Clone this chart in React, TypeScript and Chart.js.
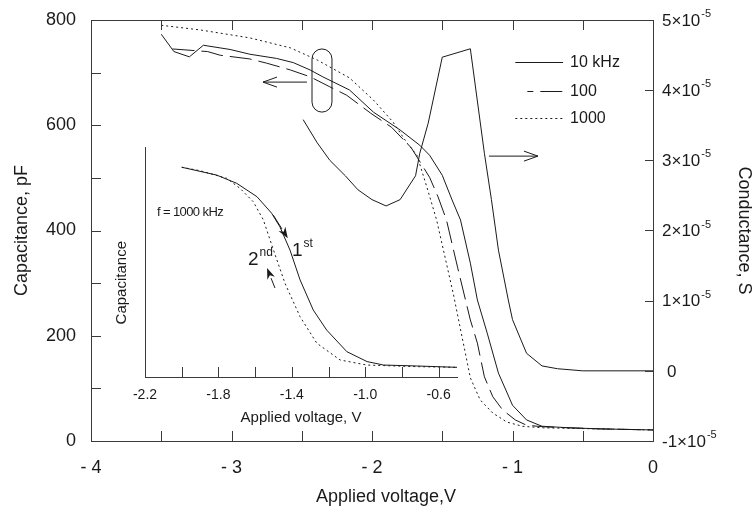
import React, { useEffect, useRef } from 'react';
import { Chart, registerables } from 'chart.js';
Chart.register(...registerables);

// ---------- Main chart data ----------
// Capacitance (pF) vs applied voltage (V), 10 kHz
const V_10K = [-3.5, -3.41, -3.3, -3.2, -3.01, -2.87, -2.68, -2.56, -2.44, -2.35, -2.16, -1.99, -1.8, -1.66, -1.59, -1.5, -1.43, -1.37, -1.3, -1.25, -1.18, -1.1, -1.0, -0.9, -0.79, -0.59, -0.36, 0];
const C_10K = [773, 740, 730, 752, 744, 735, 727, 719, 705, 692, 667, 625, 591, 562, 543, 505, 458, 420, 338, 268, 205, 129, 68, 40, 28, 25, 23, 21];
// 100 kHz
const V_100 = [-3.42, -3.17, -3.08, -2.87, -2.75, -2.58, -2.44, -2.3, -2.18, -2.01, -1.86, -1.72, -1.59, -1.53, -1.47, -1.39, -1.3, -1.25, -1.2, -1.14, -1.07, -0.98, -0.9, -0.78, -0.38, 0];
const C_100 = [745, 740, 733, 726, 718, 705, 692, 673, 657, 623, 596, 557, 501, 464, 420, 329, 230, 186, 122, 84, 59, 40, 30, 27, 23, 21];
// 1000 kHz
const V_1000 = [-3.5, -3.22, -2.87, -2.58, -2.39, -2.16, -1.99, -1.85, -1.75, -1.68, -1.61, -1.54, -1.42, -1.3, -1.23, -1.14, -1.04, -0.93, -0.78, 0];
const C_1000 = [790, 781, 766, 747, 724, 690, 648, 606, 566, 543, 483, 420, 278, 120, 78, 53, 36, 28, 25, 21];
// Conductance (S) vs applied voltage (V), 10 kHz
const V_G = [-2.49, -2.39, -2.3, -2.19, -2.1, -2.0, -1.9, -1.8, -1.69, -1.66, -1.6, -1.5, -1.3, -1.2, -1.15, -1.1, -1.03, -1.0, -0.9, -0.79, -0.68, -0.5, 0];
const G_10K = [3.58e-5, 3.25e-5, 3.0e-5, 2.78e-5, 2.58e-5, 2.44e-5, 2.35e-5, 2.44e-5, 2.78e-5, 3.1e-5, 3.53e-5, 4.47e-5, 4.59e-5, 3.1e-5, 2.44e-5, 1.72e-5, 1.01e-5, 0.73e-5, 0.25e-5, 0.07e-5, 0.03e-5, 0, 0];

const X_MINOR = [-3.5, -3, -2.5, -2, -1.5, -1, -0.5];
const Y_MINOR = [100, 200, 300, 400, 500, 600, 700];
const RIGHT_TICKS = [-1, 0, 1, 2, 3, 4, 5]; // ×10^-5
const LEGEND_LABELS = ['10 kHz', '100', '1000'];

// ---------- Inset data (f = 1000 kHz) ----------
const IV_1ST = [-2.0, -1.81, -1.7, -1.59, -1.51, -1.465, -1.41, -1.355, -1.283, -1.21, -1.1, -0.99, -0.9, -0.72, -0.5];
const IC_1ST = [0.912, 0.878, 0.842, 0.784, 0.712, 0.653, 0.552, 0.422, 0.291, 0.204, 0.11, 0.067, 0.052, 0.048, 0.042];
const IV_2ND = [-2.0, -1.9, -1.755, -1.682, -1.61, -1.555, -1.5, -1.437, -1.355, -1.264, -1.137, -0.992, -0.72, -0.5];
const IC_2ND = [0.912, 0.897, 0.864, 0.82, 0.762, 0.683, 0.552, 0.407, 0.262, 0.147, 0.074, 0.052, 0.045, 0.042];
const INSET_LABELS = [-2.2, -1.8, -1.4, -1.0, -0.6];
const INSET_MINOR = [-2.0, -1.8, -1.6, -1.4, -1.2, -1.0, -0.8, -0.6];

const INK = '#1a1a1a';
const FRAME = '#3a3a3a';
const SANS = '"Liberation Sans", Arial, Helvetica, sans-serif';
const NARROW = '"Liberation Sans Narrow", "Arial Narrow", "Liberation Sans", Arial, sans-serif';

const pts = (xs: number[], ys: number[]) => xs.map((x, i) => ({ x, y: ys[i] }));

function openArrow(ctx: CanvasRenderingContext2D, x1: number, y1: number, x2: number, y2: number, head = 14, spread = 5) {
  const ang = Math.atan2(y2 - y1, x2 - x1);
  ctx.beginPath();
  ctx.moveTo(x1, y1);
  ctx.lineTo(x2, y2);
  const bx = x2 - head * Math.cos(ang), by = y2 - head * Math.sin(ang);
  const px = -Math.sin(ang) * spread, py = Math.cos(ang) * spread;
  ctx.moveTo(bx + px, by + py);
  ctx.lineTo(x2, y2);
  ctx.lineTo(bx - px, by - py);
  ctx.stroke();
}

function filledArrow(ctx: CanvasRenderingContext2D, x1: number, y1: number, x2: number, y2: number, head = 11, spread = 4) {
  const ang = Math.atan2(y2 - y1, x2 - x1);
  const bx = x2 - head * Math.cos(ang), by = y2 - head * Math.sin(ang);
  ctx.beginPath();
  ctx.moveTo(x1, y1);
  ctx.lineTo(bx, by);
  ctx.stroke();
  const px = -Math.sin(ang) * spread, py = Math.cos(ang) * spread;
  ctx.beginPath();
  ctx.moveTo(x2, y2);
  ctx.lineTo(bx + px, by + py);
  ctx.lineTo(bx + 0.3 * (x2 - bx), by + 0.3 * (y2 - by));
  ctx.lineTo(bx - px, by - py);
  ctx.closePath();
  ctx.fill();
}

const mainPlugin = {
  id: 'mainDecor',
  afterDraw(chart: any) {
    const { ctx, chartArea: a, scales } = chart;
    const sx = scales.x, sy = scales.y, sy1 = scales.y1;
    ctx.save();
    ctx.strokeStyle = FRAME;
    ctx.lineWidth = 1;
    ctx.setLineDash([]);
    ctx.strokeRect(Math.round(a.left) + 0.5, Math.round(a.top) + 0.5, Math.round(a.right - a.left), Math.round(a.bottom - a.top));
    const TL = 10;
    ctx.beginPath();
    X_MINOR.forEach((v) => {
      const px = Math.round(sx.getPixelForValue(v)) + 0.5;
      ctx.moveTo(px, a.bottom); ctx.lineTo(px, a.bottom - TL);
      ctx.moveTo(px, a.top); ctx.lineTo(px, a.top + TL);
    });
    Y_MINOR.forEach((v) => {
      const py = Math.round(sy.getPixelForValue(v)) + 0.5;
      ctx.moveTo(a.left, py); ctx.lineTo(a.left + TL, py);
    });
    RIGHT_TICKS.forEach((m) => {
      const py = Math.round(sy1.getPixelForValue(m * 1e-5)) + 0.5;
      ctx.moveTo(a.right, py); ctx.lineTo(a.right - 8, py);
    });
    ctx.stroke();

    // right axis labels with superscripts
    ctx.fillStyle = INK;
    ctx.textBaseline = 'middle';
    ctx.textAlign = 'left';
    RIGHT_TICKS.forEach((m) => {
      const py = sy1.getPixelForValue(m * 1e-5);
      const x0 = a.right + 9;
      ctx.font = `17px ${SANS}`;
      if (m === 0) { ctx.fillText('0', x0 + 5, py + 1); return; }
      const base = `${m}\u00d710`;
      ctx.fillText(base, x0, py + 1);
      const w = ctx.measureText(base).width;
      ctx.font = `11px ${SANS}`;
      ctx.fillText('-5', x0 + w + 1, py - 6);
    });

    // x-axis title (slightly right of centre, as in the source figure)
    ctx.font = `18px ${SANS}`;
    ctx.textAlign = 'center';
    ctx.fillText('Applied voltage,V', sx.getPixelForValue(-1.9), 497);
    ctx.textAlign = 'left';

    // legend
    const dsets = chart.data.datasets;
    const lx1 = sx.getPixelForValue(-0.98), lx2 = sx.getPixelForValue(-0.64);
    const rows = [62, 91, 118];
    LEGEND_LABELS.forEach((lab, i) => {
      const ds = dsets[i];
      const yy = rows[i] + 0.5;
      ctx.strokeStyle = INK;
      ctx.lineWidth = 1;
      ctx.setLineDash(ds.borderDash || []);
      ctx.lineDashOffset = i === 1 ? 16 : 0;
      ctx.beginPath();
      ctx.moveTo(i === 1 ? lx1 + 12 : lx1, yy); ctx.lineTo(lx2, yy);
      ctx.stroke();
      ctx.setLineDash([]);
      ctx.lineDashOffset = 0;
      ctx.font = `16px ${SANS}`;
      ctx.fillStyle = INK;
      ctx.fillText(lab, lx2 + 7, rows[i] + 1);
    });

    // ellipse around capacitance curves with arrow to left axis
    ctx.strokeStyle = INK;
    ctx.lineWidth = 1;
    const ex1 = sx.getPixelForValue(-2.427), ex2 = sx.getPixelForValue(-2.285);
    const ey1 = sy.getPixelForValue(745), ey2 = sy.getPixelForValue(625);
    const r = (ex2 - ex1) / 2;
    ctx.beginPath();
    ctx.moveTo(ex1, ey1 + r);
    ctx.arc(ex1 + r, ey1 + r, r, Math.PI, 0);
    ctx.lineTo(ex2, ey2 - r);
    ctx.arc(ex1 + r, ey2 - r, r, 0, Math.PI);
    ctx.closePath();
    ctx.stroke();
    const ay = sy.getPixelForValue(682);
    openArrow(ctx, sx.getPixelForValue(-2.463), ay, sx.getPixelForValue(-2.776), ay, 14, 5);
    // arrow to right axis for conductance
    const gy = sy1.getPixelForValue(3.06e-5);
    openArrow(ctx, sx.getPixelForValue(-1.167), gy, sx.getPixelForValue(-0.819), gy, 14, 5);
    ctx.restore();
  },
};

const insetPlugin = {
  id: 'insetDecor',
  afterDraw(chart: any) {
    const { ctx, chartArea: a, scales } = chart;
    const sx = scales.x, sy = scales.y;
    ctx.save();
    ctx.strokeStyle = FRAME;
    ctx.lineWidth = 1;
    ctx.beginPath();
    INSET_MINOR.forEach((v) => {
      const px = Math.round(sx.getPixelForValue(v)) + 0.5;
      ctx.moveTo(px, a.bottom); ctx.lineTo(px, a.bottom - 10);
    });
    ctx.stroke();

    ctx.fillStyle = INK;
    ctx.strokeStyle = INK;
    // inset y title, sitting below the centre of the axis as in the source
    ctx.save();
    ctx.translate(a.left - 23, sy.getPixelForValue(0.41));
    ctx.rotate(-Math.PI / 2);
    ctx.textAlign = 'center';
    ctx.textBaseline = 'middle';
    ctx.font = `15px ${NARROW}`;
    ctx.fillText('Capacitance', 0, 0);
    ctx.restore();

    ctx.textBaseline = 'middle';
    ctx.textAlign = 'left';
    ctx.font = `13px ${NARROW}`;
    (ctx as any).letterSpacing = '-0.6px';
    ctx.fillText('f = 1000 kHz', sx.getPixelForValue(-2.135), sy.getPixelForValue(0.717));
    (ctx as any).letterSpacing = '0px';

    filledArrow(ctx, sx.getPixelForValue(-1.501), sy.getPixelForValue(0.704), sx.getPixelForValue(-1.422), sy.getPixelForValue(0.603));
    filledArrow(ctx, sx.getPixelForValue(-1.492), sy.getPixelForValue(0.387), sx.getPixelForValue(-1.535), sy.getPixelForValue(0.474));

    ctx.textBaseline = 'alphabetic';
    const sup = (x: number, y: number, b: string, s: string) => {
      ctx.font = `19px ${NARROW}`;
      ctx.fillText(b, x, y);
      const w = ctx.measureText(b).width;
      ctx.font = `12px ${NARROW}`;
      ctx.fillText(s, x + w + 1, y - 9);
    };
    sup(sx.getPixelForValue(-1.399), sy.getPixelForValue(0.526), '1', 'st');
    sup(sx.getPixelForValue(-1.639), sy.getPixelForValue(0.487), '2', 'nd');
    ctx.restore();
  },
};

export default function App() {
  const mainRef = useRef<HTMLCanvasElement>(null);
  const insetRef = useRef<HTMLCanvasElement>(null);

  useEffect(() => {
    const lineDs = (label: string, data: any, axis: string, dash: number[] = []) => ({
      label, data, yAxisID: axis, borderColor: INK, borderWidth: 1, borderDash: dash,
      pointRadius: 0, fill: false, tension: 0,
    });
    const tickFont = { family: SANS, size: 18 };
    const main = new Chart(mainRef.current as HTMLCanvasElement, {
      type: 'line',
      data: {
        datasets: [
          lineDs('10 kHz', pts(V_10K, C_10K), 'y'),
          lineDs('100', pts(V_100, C_100), 'y', [22, 7]),
          lineDs('1000', pts(V_1000, C_1000), 'y', [2, 3]),
          lineDs('G 10 kHz', pts(V_G, G_10K), 'y1'),
        ] as any,
      },
      options: {
        responsive: false,
        maintainAspectRatio: false,
        animation: false,
        events: [],
        layout: { padding: { top: 20, left: 0, right: 0, bottom: 0 } },
        plugins: { legend: { display: false }, tooltip: { enabled: false } },
        scales: {
          x: {
            type: 'linear', min: -4, max: 0,
            grid: { display: false }, border: { display: false },
            ticks: {
              stepSize: 1, autoSkip: false, maxRotation: 0, padding: 8, color: INK, font: tickFont,
              callback: (v: any) => (Number(v) === 0 ? '0' : '- ' + Math.abs(Number(v))),
            },
            title: { display: false },
            afterFit: (s: any) => { s.height = 75; },
          },
          y: {
            type: 'linear', position: 'left', min: 0, max: 800,
            grid: { display: false }, border: { display: false },
            ticks: { stepSize: 200, padding: 7, color: INK, font: tickFont },
            title: { display: true, text: 'Capacitance, pF', color: INK, font: { family: SANS, size: 18 }, padding: { top: 11, bottom: 0 } },
            afterFit: (s: any) => { s.width = 91; },
          },
          y1: {
            type: 'linear', position: 'right', min: -1e-5, max: 5e-5,
            grid: { display: false }, border: { display: false },
            ticks: { display: false, stepSize: 1e-5 },
            title: { display: true, text: 'Conductance, S', color: INK, font: { family: SANS, size: 18 }, padding: { top: 0, bottom: 0 } },
            afterFit: (s: any) => { s.width = 102; },
          },
        },
      } as any,
      plugins: [mainPlugin],
    });

    const insetFont = { family: NARROW, size: 14 };
    const inset = new Chart(insetRef.current as HTMLCanvasElement, {
      type: 'line',
      data: {
        datasets: [
          lineDs('1st', pts(IV_1ST, IC_1ST), 'y'),
          lineDs('2nd', pts(IV_2ND, IC_2ND), 'y', [2, 3]),
        ] as any,
      },
      options: {
        responsive: false,
        maintainAspectRatio: false,
        animation: false,
        events: [],
        layout: { padding: { top: 7, right: 8, left: 0, bottom: 0 } },
        plugins: { legend: { display: false }, tooltip: { enabled: false } },
        scales: {
          x: {
            type: 'linear', min: -2.2, max: -0.5,
            grid: { display: false }, border: { display: true, color: FRAME, width: 1 },
            afterBuildTicks: (s: any) => { s.ticks = INSET_LABELS.map((v) => ({ value: v })); },
            ticks: {
              autoSkip: false, maxRotation: 0, padding: 2, color: INK, font: insetFont,
              callback: (v: any) => Number(v).toFixed(1),
            },
            title: { display: true, text: 'Applied voltage, V', color: INK, font: { family: NARROW, size: 15 }, padding: { top: 0, bottom: 13 } },
            afterFit: (s: any) => { s.height = 63; },
          },
          y: {
            type: 'linear', min: 0, max: 1,
            grid: { display: false }, border: { display: true, color: FRAME, width: 1 },
            ticks: { display: false },
            title: { display: false },
            afterFit: (s: any) => { s.width = 45; },
          },
        },
      } as any,
      plugins: [insetPlugin],
    });

    return () => { main.destroy(); inset.destroy(); };
  }, []);

  return (
    <div style={{ position: 'absolute', left: 0, top: 0, width: 755, height: 516, background: '#fff' }}>
      <canvas ref={mainRef} width={755} height={516} style={{ position: 'absolute', left: 0, top: 0, width: 755, height: 516 }} />
      <canvas ref={insetRef} width={365} height={300} style={{ position: 'absolute', left: 100, top: 140, width: 365, height: 300 }} />
    </div>
  );
}
